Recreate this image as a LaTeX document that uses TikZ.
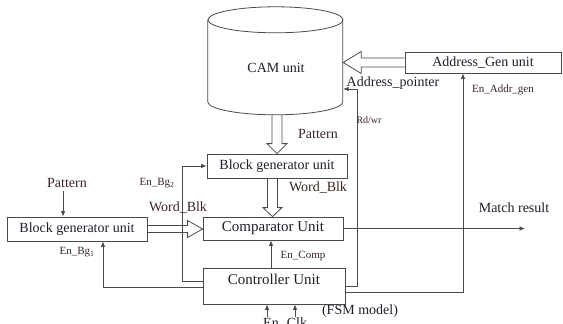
\documentclass[tikz,border=0pt]{standalone}
\usepackage{fontspec}
\setmainfont{Liberation Serif}
\usetikzlibrary{arrows.meta,calc}

\definecolor{ln}{HTML}{4A4A4A}
\definecolor{lbl}{HTML}{3A2424}
\definecolor{txt}{HTML}{1E1E2A}

% open block arrows (shaft half width, head half width, head length)
\newcommand\hollowdown[5]{\draw[hollow] let \p1=(#1), \p2=(#2) in
  (\x1-#3pt,\y1) -- (\x1-#3pt,\y2+#5pt) -- (\x1-#4pt,\y2+#5pt) -- (\x1,\y2)
  -- (\x1+#4pt,\y2+#5pt) -- (\x1+#3pt,\y2+#5pt) -- (\x1+#3pt,\y1);}
\newcommand\hollowright[5]{\draw[hollow] let \p1=(#1), \p2=(#2) in
  (\x1,\y1+#3pt) -- (\x2-#5pt,\y1+#3pt) -- (\x2-#5pt,\y1+#4pt) -- (\x2,\y1)
  -- (\x2-#5pt,\y1-#4pt) -- (\x2-#5pt,\y1-#3pt) -- (\x1,\y1-#3pt);}
\newcommand\hollowleft[5]{\draw[hollow] let \p1=(#1), \p2=(#2) in
  (\x1,\y1+#3pt) -- (\x2+#5pt,\y1+#3pt) -- (\x2+#5pt,\y1+#4pt) -- (\x2,\y1)
  -- (\x2+#5pt,\y1-#4pt) -- (\x2+#5pt,\y1-#3pt) -- (\x1,\y1-#3pt);}

\begin{document}
\begin{tikzpicture}[x=1pt,y=-1pt,
  box/.style={draw=ln, line width=0.8pt, inner sep=0pt, text=txt,
    font=\fontsize{14}{16}\selectfont},
  bigbox/.style={box, font=\fontsize{15}{17}\selectfont},
  txtn/.style={inner sep=0pt, text=txt, font=\fontsize{14}{16}\selectfont},
  lab/.style={inner sep=0pt, text=lbl, font=\fontsize{14}{16}\selectfont},
  smalllab/.style={inner sep=0pt, text=lbl, font=\fontsize{11}{13}\selectfont},
  conn/.style={draw=ln, line width=0.8pt},
  tip/.style={-{Latex[length=5.5pt,width=4.5pt]}},
  hollow/.style={draw=ln, line width=0.8pt, line join=miter}]
\useasboundingbox (0,0) rectangle (563,324);

% CAM cylinder
\node[minimum width=135pt, minimum height=108pt, inner sep=0pt] (cam) at (275.5,61) {};
\draw[conn] (cam.north west) ++(0,13) -- ++(0,82)
  arc[start angle=180, end angle=360, x radius=67.5pt, y radius=13pt] -- ++(0,-82);
\draw[conn] ($(cam.north)+(0,13)$) ellipse[x radius=67.5pt, y radius=13pt];
\node[txtn] (camtxt) at (276,68) {CAM unit};

% blocks
\node[box, minimum width=156pt, minimum height=21pt] (addr) at (483,62.5) {Address\_Gen unit};
\node[box, minimum width=140pt, minimum height=24pt] (bgu) at (277,166) {Block generator unit};
\node[bigbox, minimum width=140pt, minimum height=23pt] (cmp) at (273,228.5) {Comparator Unit};
\node[box, minimum width=140pt, minimum height=24pt] (bgl) at (77,229) {Block generator unit};
\node[bigbox, minimum width=142pt, minimum height=36pt] (ctl) at (274,286) {};
\node[txtn, font=\fontsize{15}{17}\selectfont] (ctltxt) at (274,279) {Controller Unit};

% block arrows
\hollowleft{addr.west}{cam.east}{4.5}{11}{18}
\hollowdown{$(cam.south)+(1.5,0)$}{bgu.north}{5}{10}{10}
\hollowdown{$(bgu.south)+(-4.5,0)$}{cmp.north}{5}{9.5}{9}
\hollowright{bgl.east}{cmp.west}{3.5}{8.5}{15}

% signal lines
\coordinate (pin) at (63,191);
\draw[conn,tip] (pin) -- (pin |- bgl.north);
\coordinate (mout) at (525,228.5);
\draw[conn,tip] (cmp.east) -- (mout);
\coordinate (encx) at ($(ctl.north)+(-3,0)$);
\draw[conn,tip] (encx) -- (encx |- cmp.south);
\coordinate (b2) at ($(ctl.west)+(0,-5)$);
\draw[conn,tip] (b2) -- ++(-20,0) |- (bgu.west);
\coordinate (b1) at ($(ctl.west)+(0,1)$);
\coordinate (b1t) at ($(bgl.south)+(26,0)$);
\draw[conn,tip] (b1) -| (b1t);
\coordinate (rwt) at ($(cam.east)+(0,28)$);
\draw[conn,tip] (ctl.east) -- ++(12,0) |- (rwt);
\coordinate (ea) at ($(ctl.east)+(0,6)$);
\coordinate (eat) at ($(addr.south)+(-20,0)$);
\draw[conn,tip] (ea) -| (eat);
\coordinate (enin) at (267,317);
\draw[conn,tip] (enin) -- (enin |- ctl.south);
\coordinate (clkin) at (295,317);
\draw[conn,tip] (clkin) -- (clkin |- ctl.south);

% labels
\node[lab] (patu) at (318,134) {Pattern};
\node[lab] (wbu) at (318,188) {Word\_Blk};
\node[lab] (wbl) at (178,208) {Word\_Blk};
\node[lab] (patl) at (67,183) {Pattern};
\node[smalllab] (bg2) at (157,183) {En\_Bg\textsubscript{2}};
\node[smalllab] (bg1) at (77,252) {En\_Bg\textsubscript{1}};
\node[smalllab] (encl) at (303,256) {En\_Comp};
\node[smalllab, font=\fontsize{10}{12}\selectfont] (rwl) at (369,120) {Rd/wr};
\node[txtn] (apl) at (393,83) {Address\_pointer};
\node[smalllab] (eal) at (503,90) {En\_Addr\_gen};
\node[txtn] (mrl) at (514,208) {Match result};
\node[txtn] (fsm) at (360,311) {(FSM model)};
\node[txtn, anchor=base] (enl) at (271,327) {En};
\node[txtn, anchor=base] (clkl) at (297,327) {Clk};
\end{tikzpicture}
\end{document}
